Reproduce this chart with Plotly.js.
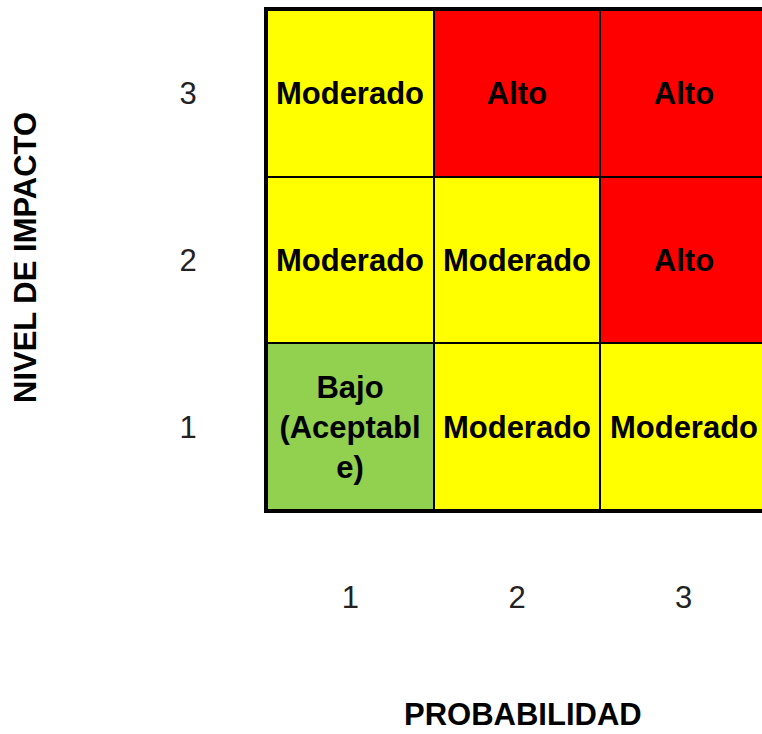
<!DOCTYPE html>
<html>
<head>
<meta charset="utf-8">
<script src="https://cdn.plot.ly/plotly-3.0.1.min.js"></script>
<style>
html, body { margin:0; padding:0; overflow:hidden; background:#fff; }
#chart { width:780px; height:734px; }
</style>
</head>
<body>
<div id="chart"></div>
<script>
// Data
var probabilidad = [1, 2, 3];
var impacto = [1, 2, 3];
var nivelTexto = [
  ["Bajo<br>(Aceptabl<br>e)", "Moderado", "Moderado"],
  ["Moderado", "Moderado", "Alto"],
  ["Moderado", "Alto", "Alto"]
];
var nivelValor = [
  [1, 2, 2],
  [2, 2, 3],
  [2, 3, 3]
];
var tickLabels = ["1", "2", "3"];

var trace = {
  type: 'heatmap',
  x: probabilidad,
  y: impacto,
  z: nivelValor,
  text: nivelTexto,
  texttemplate: '<b>%{text}</b>',
  textfont: {family: 'Liberation Sans, Arial, sans-serif', size: 31, color: '#000', weight: 'bold'},
  colorscale: [[0, '#92D050'], [0.25, '#92D050'], [0.25, '#FFFF00'], [0.75, '#FFFF00'], [0.75, '#FF0000'], [1, '#FF0000']],
  zmin: 1, zmax: 3,
  showscale: false,
  xgap: 2, ygap: 2,
  hoverinfo: 'skip'
};

var layout = {
  width: 780, height: 734,
  margin: {l: 267, r: 13, t: 10, b: 224},
  paper_bgcolor: '#fff',
  plot_bgcolor: '#000',
  font: {family: 'Liberation Sans, Arial, sans-serif'},
  xaxis: {
    range: [0.5, 3.5], tickvals: probabilidad, ticktext: tickLabels,
    showgrid: false, zeroline: false, ticks: '',
    showline: true, mirror: true, linewidth: 3, linecolor: '#000',
    ticklabelstandoff: 58,
    tickfont: {size: 31, color: '#222'},
    fixedrange: true
  },
  yaxis: {
    range: [0.5, 3.5], tickvals: impacto, ticktext: tickLabels,
    showgrid: false, zeroline: false, ticks: '',
    showline: true, mirror: true, linewidth: 3, linecolor: '#000',
    ticklabelstandoff: 61,
    tickfont: {size: 31, color: '#222'},
    fixedrange: true
  },
  annotations: [
    {text: '<b>NIVEL DE IMPACTO</b>', xref: 'paper', yref: 'paper', x: -0.484, y: 0.504,
     textangle: -90, showarrow: false, xanchor: 'center', yanchor: 'middle',
     font: {size: 31, color: '#000'}},
    {text: '<b>PROBABILIDAD</b>', xref: 'paper', yref: 'paper', x: 0.512, y: -0.408,
     showarrow: false, xanchor: 'center', yanchor: 'middle',
     font: {size: 31, color: '#000'}}
  ]
};

Plotly.newPlot('chart', [trace], layout, {displayModeBar: false, staticPlot: true});
</script>
</body>
</html>
